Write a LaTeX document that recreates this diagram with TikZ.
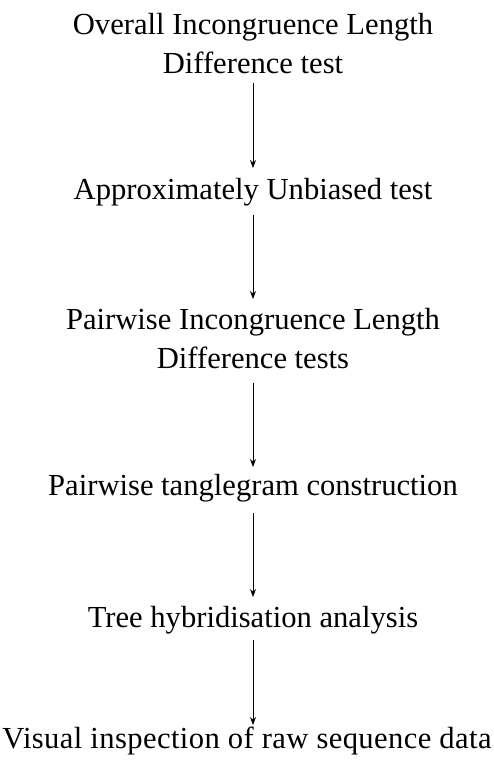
\documentclass[tikz,border=0pt]{standalone}
\usepackage{fontspec}
\setmainfont{Liberation Serif}
\usetikzlibrary{arrows.meta,calc}
\begin{document}
\begin{tikzpicture}[x=1pt,y=-1pt,
  lbl/.style={font=\fontsize{30.6}{38.8}\selectfont, inner sep=0pt, outer sep=0pt, align=center, anchor=base},
  flow/.style={-{Stealth[length=8pt,width=6pt]}, line width=0.8pt}]
\useasboundingbox (0,0) rectangle (494,763);
\node[lbl] (a) at (253,73) {Overall Incongruence Length\\Difference test};
\node[lbl] (b) at (253,199) {Approximately Unbiased test};
\node[lbl] (c) at (253,368) {Pairwise Incongruence Length\\Difference tests};
\node[lbl] (d) at (253,495) {Pairwise tanglegram construction};
\node[lbl] (e) at (253,627) {Tree hybridisation analysis};
\node[lbl] (f) at (247,748) {\addfontfeatures{LetterSpace=1.3}Visual inspection of raw sequence data};
\draw[flow] ($(a.base)+(0,10)$) -- ($(b.base)+(0,-31)$);
\draw[flow] ($(b.base)+(0,16)$) -- ($(c.base)+(0,-69)$);
\draw[flow] ($(c.base)+(0,15)$) -- ($(d.base)+(0,-28)$);
\draw[flow] ($(d.base)+(0,18)$) -- ($(e.base)+(0,-30)$);
\draw[flow] ($(e.base)+(0,13)$) -- ($(f.base)+(6,-23)$);
\end{tikzpicture}
\end{document}
